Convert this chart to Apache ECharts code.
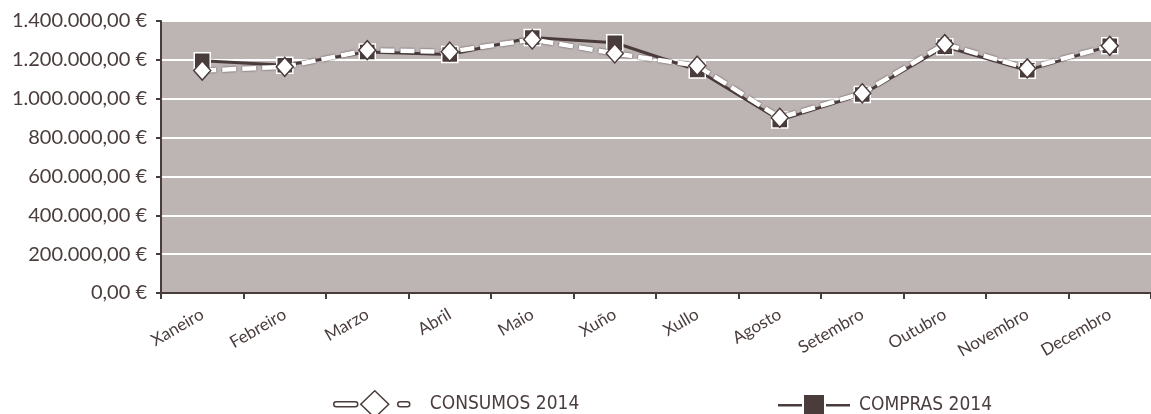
<!DOCTYPE html>
<html>
<head>
<meta charset="utf-8">
<script src="https://cdn.jsdelivr.net/npm/echarts@6/dist/echarts.min.js"></script>
<style>
  html, body { margin: 0; padding: 0; background: #ffffff; }
  #chart { width: 1151px; height: 414px; }
</style>
</head>
<body>
<div id="chart"></div>
<script>
// Monthly figures for 2014, in euros
const months = ['Xaneiro', 'Febreiro', 'Marzo', 'Abril', 'Maio', 'Xuño', 'Xullo', 'Agosto', 'Setembro', 'Outubro', 'Novembro', 'Decembro'];
const consumos2014 = [1145000, 1164000, 1250000, 1242000, 1305000, 1233000, 1170000, 902000, 1028000, 1281000, 1156000, 1272000];
const compras2014 = [1195000, 1172000, 1240000, 1228000, 1315000, 1288000, 1148000, 890000, 1022000, 1268000, 1146000, 1272000];
const yTicks = [0, 200000, 400000, 600000, 800000, 1000000, 1200000, 1400000];

const dark = '#4b3c3c';
const textColor = '#4a3d3d';
const plotBg = '#bdb4b4';
const legendFont = 'Liberation Sans Narrow, DejaVu Sans Condensed, sans-serif';

function euro(v) {
  const s = Math.round(v).toString().replace(/\B(?=(\d{3})+(?!\d))/g, '.');
  return s + ',00 €';
}

// Legend glyphs: capsule dash + diamond + short capsule; line + square + line
const consumosIcon = 'path://M2.5,11 L21.5,11 A2.5,2.5 0 0 1 21.5,16 L2.5,16 A2.5,2.5 0 0 1 2.5,11 Z ' +
  'M41,0 L55,13.5 L41,27 L27,13.5 Z ' +
  'M66.5,11 L73.5,11 A2.5,2.5 0 0 1 73.5,16 L66.5,16 A2.5,2.5 0 0 1 66.5,11 Z';
const comprasIcon = 'path://M0,9 L24,9 L24,11.5 L0,11.5 Z M26,0 L46,0 L46,20 L26,20 Z M48,9 L72,9 L72,11.5 L48,11.5 Z';

const chart = echarts.init(document.getElementById('chart'), null, { renderer: 'canvas' });

chart.setOption({
  animation: false,
  backgroundColor: '#ffffff',
  grid: {
    left: 161, top: 21, right: -10, bottom: 121,
    show: true, backgroundColor: plotBg, borderWidth: 0
  },
  legend: [
    {
      data: [{ name: 'CONSUMOS 2014', icon: consumosIcon }],
      left: 328, top: 385,
      itemWidth: 76, itemHeight: 27,
      itemStyle: { color: '#ffffff', borderColor: dark, borderWidth: 1.5 },
      textStyle: { color: textColor, fontSize: 19, fontFamily: legendFont, padding: [0, 0, 0, 15] }
    },
    {
      data: [{ name: 'COMPRAS 2014', icon: comprasIcon }],
      left: 773, top: 390,
      itemWidth: 72, itemHeight: 20,
      itemStyle: { color: dark, borderWidth: 0 },
      textStyle: { color: textColor, fontSize: 19, fontFamily: legendFont, padding: [0, 0, 0, 4] }
    }
  ],
  xAxis: {
    type: 'category',
    data: months,
    boundaryGap: true,
    axisLine: { show: true, lineStyle: { color: dark, width: 2 } },
    axisTick: { show: true, length: 6, lineStyle: { color: dark, width: 2 } },
    axisLabel: {
      rotate: 30, margin: 20, color: textColor, fontSize: 17,
      fontFamily: 'Lato, sans-serif', interval: 0
    },
    splitLine: { show: false }
  },
  yAxis: {
    type: 'value',
    min: yTicks[0],
    max: yTicks[yTicks.length - 1],
    interval: yTicks[1] - yTicks[0],
    axisLine: { show: true, lineStyle: { color: dark, width: 2 } },
    axisTick: { show: true, length: 5, lineStyle: { color: dark, width: 2 } },
    axisLabel: {
      margin: 14, color: textColor, fontSize: 20,
      fontFamily: 'Lato, sans-serif',
      formatter: euro
    },
    splitLine: { show: true, lineStyle: { color: '#ffffff', width: 2 } }
  },
  series: [
    {
      name: 'COMPRAS 2014',
      type: 'line',
      data: compras2014,
      symbol: 'rect',
      symbolSize: 16,
      z: 2,
      lineStyle: { color: dark, width: 3 },
      itemStyle: { color: dark, borderColor: '#ffffff', borderWidth: 1.5 }
    },
    {
      name: 'CONSUMOS 2014',
      type: 'line',
      data: consumos2014,
      symbol: 'diamond',
      symbolSize: [17, 19],
      z: 3,
      lineStyle: {
        color: '#ffffff', width: 4.5, type: [14, 6],
        shadowColor: dark, shadowBlur: 2
      },
      itemStyle: { color: '#ffffff', borderColor: dark, borderWidth: 1.5 }
    }
  ]
});
</script>
</body>
</html>
